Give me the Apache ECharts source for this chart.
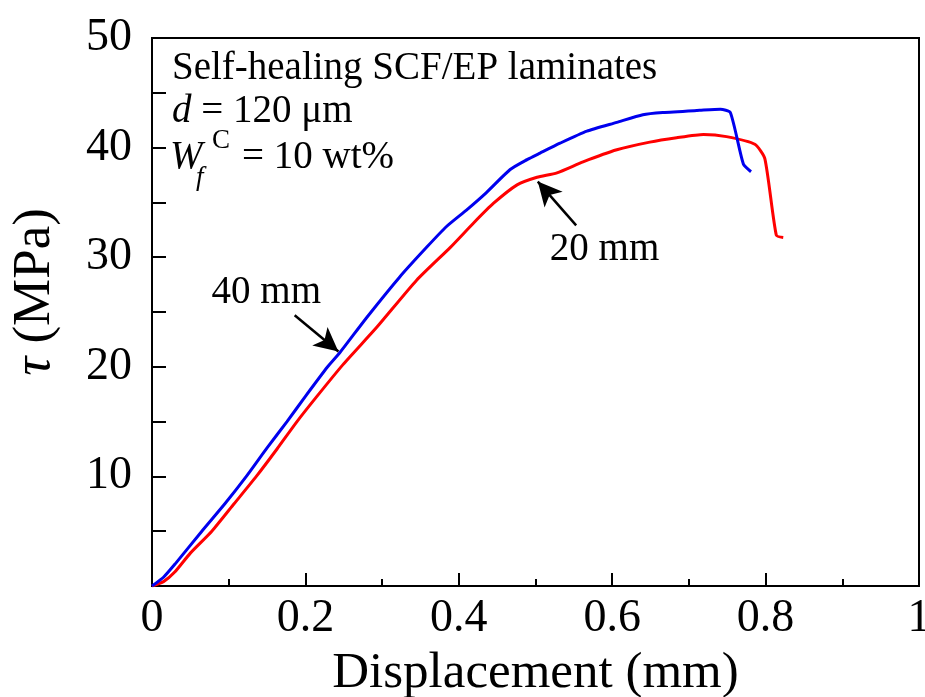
<!DOCTYPE html>
<html>
<head>
<meta charset="utf-8">
<script src="https://cdn.jsdelivr.net/npm/echarts@6/dist/echarts.min.js"></script>
<style>
  html, body { margin: 0; padding: 0; background: #fff; }
  #main { width: 925px; height: 697px; }
</style>
</head>
<body>
<div id="main"></div>
<script>
// 40 mm specimen (blue)
const disp40 = [0, 0.015, 0.03, 0.065, 0.095, 0.123, 0.15, 0.176, 0.2, 0.229, 0.245, 0.28, 0.323, 0.358, 0.384, 0.41, 0.436, 0.467, 0.489, 0.506, 0.532, 0.567, 0.606, 0.64, 0.666, 0.714, 0.741, 0.754, 0.771, 0.781];
const tau40 = [0, 0.8, 2.0, 5.0, 7.5, 10.0, 12.6, 15.0, 17.3, 20.0, 21.3, 24.5, 28.2, 30.9, 32.8, 34.3, 35.9, 38.0, 38.9, 39.5, 40.4, 41.5, 42.3, 43.0, 43.2, 43.4, 43.5, 43.2, 38.5, 37.8];
// 20 mm specimen (red)
const disp20 = [0, 0.015, 0.03, 0.05, 0.078, 0.107, 0.136, 0.163, 0.189, 0.215, 0.249, 0.293, 0.345, 0.389, 0.419, 0.445, 0.476, 0.502, 0.528, 0.562, 0.606, 0.649, 0.684, 0.719, 0.749, 0.786, 0.799, 0.814, 0.823];
const tau20 = [0, 0.4, 1.3, 3.0, 5.0, 7.5, 10.0, 12.5, 15.0, 17.3, 20.2, 23.6, 27.9, 30.9, 33.1, 34.9, 36.6, 37.3, 37.7, 38.7, 39.8, 40.5, 40.9, 41.2, 41.0, 40.3, 39.0, 32.0, 31.8];

// arrow annotations [label, label pos, arrow start, arrow tip]
const labels = ['40 mm', '20 mm'];
const labelPos = [[0.149, 26.8], [0.59, 30.7]];
const arrowFrom = [[0.186, 24.7], [0.553, 32.9]];
const arrowTo = [[0.243, 21.4], [0.503, 36.9]];

const FONT = '"Liberation Serif", "Times New Roman", serif';

function zip(xs, ys) { return xs.map((x, i) => [x, ys[i]]); }

const chart = echarts.init(document.getElementById('main'));

const option = {
  animation: false,
  backgroundColor: '#fff',
  grid: { left: 152, right: 6, top: 38, bottom: 111, outerBoundsMode: 'none', containLabel: false,
    show: true, borderColor: '#000', borderWidth: 2, backgroundColor: 'transparent' },
  xAxis: {
    type: 'value', min: 0, max: 1, interval: 0.2,
    name: 'Displacement (mm)', nameLocation: 'middle', nameGap: 62,
    nameTextStyle: { fontFamily: FONT, fontSize: 51, color: '#000' },
    axisLine: { lineStyle: { color: '#000', width: 2 } },
    axisTick: { inside: true, length: 13, lineStyle: { color: '#000', width: 2 } },
    minorTick: { show: true, splitNumber: 2, length: 7, lineStyle: { color: '#000', width: 2 } },
    axisLabel: { fontFamily: FONT, fontSize: 46, color: '#000', margin: 10,
      formatter: v => (v === 0 || v === 1) ? String(v) : v.toFixed(1) },
    splitLine: { show: false }
  },
  yAxis: {
    type: 'value', min: 0, max: 50, interval: 5,
    name: '{i|τ} (MPa)', nameLocation: 'middle', nameGap: 90,
    nameTextStyle: { fontFamily: FONT, fontSize: 53, color: '#000', padding: [0, 0, 0, 40],
      rich: { i: { fontFamily: FONT, fontStyle: 'italic', fontSize: 53, color: '#000' } } },
    axisLine: { lineStyle: { color: '#000', width: 2 } },
    axisTick: { inside: true, length: 14, lineStyle: { color: '#000', width: 2 } },
    axisLabel: { fontFamily: FONT, fontSize: 46, color: '#000', margin: 20,
      formatter: v => (v > 0 && v % 10 === 0) ? String(v) : '' },
    splitLine: { show: false }
  },
  series: [
    {
      name: '40 mm', type: 'line', data: zip(disp40, tau40), showSymbol: false,
      smooth: 0.2, smoothMonotone: 'none',
      lineStyle: { color: '#0000ee', width: 3 }, z: 3,
      markLine: {
        silent: true, symbol: ['none', 'arrow'], symbolSize: [18, 24],
        lineStyle: { color: '#000', width: 2.5, type: 'solid' }, label: { show: false },
        data: arrowFrom.map((p, i) => [{ coord: p }, { coord: arrowTo[i] }])
      },
      markPoint: {
        silent: true, symbol: 'circle', symbolSize: 0,
        label: { show: true, fontFamily: FONT, fontSize: 39, color: '#000', formatter: p => p.name },
        data: labels.map((t, i) => ({ name: t, coord: labelPos[i] }))
      }
    },
    {
      name: '20 mm', type: 'line', data: zip(disp20, tau20), showSymbol: false,
      smooth: 0.2, smoothMonotone: 'none',
      lineStyle: { color: '#ff0000', width: 3 }, z: 2
    }
  ],
  graphic: [
    { type: 'text', left: 172, top: 49, style: { text: 'Self-healing SCF/EP laminates', font: '39px ' + FONT, fill: '#000' } },
    { type: 'text', left: 172, top: 92, style: {
        text: '{i|d} = 120 μm', font: '39px ' + FONT, fill: '#000',
        rich: { i: { fontStyle: 'italic', fontSize: 39, fontFamily: FONT } } } },
    { type: 'text', left: 170, top: 138, style: { text: 'W', font: 'italic 39px ' + FONT, fill: '#000' } },
    { type: 'text', left: 196, top: 164, style: { text: 'f', font: 'italic 27px ' + FONT, fill: '#000' } },
    { type: 'text', left: 212, top: 127, style: { text: 'C', font: '27px ' + FONT, fill: '#000' } },
    { type: 'text', left: 242, top: 138, style: { text: '= 10 wt%', font: '39px ' + FONT, fill: '#000' } }
  ]
};

chart.setOption(option);
</script>
</body>
</html>
